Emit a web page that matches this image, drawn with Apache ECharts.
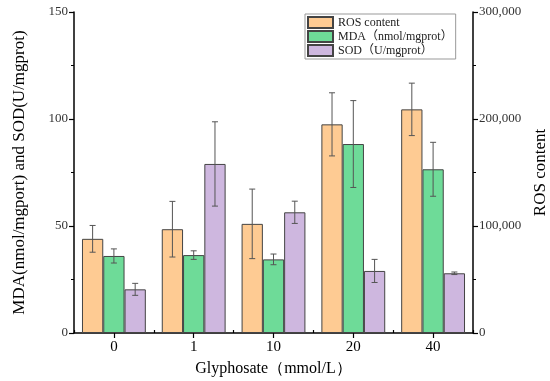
<!DOCTYPE html>
<html>
<head>
<meta charset="utf-8">
<script src="https://cdn.jsdelivr.net/npm/echarts@6/dist/echarts.min.js"></script>
<style>html,body{margin:0;padding:0;background:#fff}#c{width:550px;height:381px}</style>
</head>
<body>
<div id="c"></div>
<script>
const categories = ['0', '1', '10', '20', '40'];
const ros = [88000, 97000, 102000, 195000, 209000];
const rosErr = [12500, 26000, 32500, 29500, 24500];
const mda = [36, 36.4, 34.4, 88.3, 76.5];
const mdaErr = [3.3, 2, 2.5, 20.3, 12.6];
const sod = [20.4, 79, 56.4, 29, 27.9];
const sodErr = [2.8, 19.7, 5.2, 5.4, 0.6];
const leftTicks = [0, 50, 100, 150];
const rightTicks = [0, 100000, 200000, 300000];

const colors = ['#FECB93', '#6EDB98', '#CEB7DF'];
const FONT = 'Liberation Serif';

function errSeries(name, vals, errs, idx, yAxisIndex) {
  return {
    type: 'custom',
    name: name + ' err',
    yAxisIndex: yAxisIndex,
    silent: true,
    z: 5,
    data: vals.map((v, i) => [i, v, errs[i]]),
    renderItem: function (params, api) {
      const i = api.value(0), v = api.value(1), e = api.value(2);
      const catW = api.size([1, 0])[0];
      const bw = catW * 0.8 / 3;
      const off = (idx - 1) * bw;
      const top = api.coord([i, v + e]);
      const bot = api.coord([i, v - e]);
      const x = top[0] + off;
      const cap = 3;
      const st = { stroke: '#555', lineWidth: 1 };
      return {
        type: 'group',
        children: [
          { type: 'line', shape: { x1: x, y1: top[1], x2: x, y2: bot[1] }, style: st },
          { type: 'line', shape: { x1: x - cap, y1: top[1], x2: x + cap, y2: top[1] }, style: st },
          { type: 'line', shape: { x1: x - cap, y1: bot[1], x2: x + cap, y2: bot[1] }, style: st }
        ]
      };
    }
  };
}

const axisLine = { show: true, lineStyle: { color: '#000', width: 1.5 } };

const option = {
  animation: false,
  grid: { left: 74, right: 77, top: 12, bottom: 48, containLabel: false, outerBoundsMode: 'none' },
  legend: {
    orient: 'vertical',
    left: 305,
    top: 14,
    itemWidth: 25,
    itemHeight: 11,
    itemGap: 1,
    padding: [2, 3, 2, 2],
    borderColor: '#999',
    borderWidth: 1,
    icon: 'rect',
    textStyle: { fontFamily: FONT + ', Noto Sans CJK SC', fontSize: 12, color: '#222' },
    data: ['ROS content', 'MDA（nmol/mgprot）', 'SOD（U/mgprot）']
  },
  xAxis: [{
    type: 'category',
    data: categories,
    name: 'Glyphosate（mmol/L）',
    nameLocation: 'middle',
    nameGap: 28,
    nameTextStyle: { fontFamily: FONT, fontSize: 16, color: '#000' },
    axisLine: axisLine,
    axisTick: { show: true, alignWithLabel: true, length: 5, lineStyle: { color: '#000', width: 1.2 } },
    axisLabel: { fontFamily: FONT, fontSize: 15, color: '#000', margin: 7 }
  }, {
    type: 'category',
    data: categories,
    position: 'bottom',
    axisLine: { show: false },
    axisTick: { show: true, inside: true, length: 3, lineStyle: { color: '#000', width: 1.2 } },
    axisLabel: { show: false }
  }],
  yAxis: [{
    type: 'value',
    min: 0, max: 150, interval: 50,
    name: 'MDA(nmol/mgport) and SOD(U/mgprot)',
    nameLocation: 'middle',
    nameGap: 46,
    nameTextStyle: { fontFamily: FONT, fontSize: 17, color: '#000' },
    axisLine: axisLine,
    axisTick: { show: true, length: 5, lineStyle: { color: '#000', width: 1.2 } },
    minorTick: { show: true, splitNumber: 2, length: 3, lineStyle: { color: '#000', width: 1 } },
    splitLine: { show: false },
    axisLabel: { fontFamily: FONT, fontSize: 13, color: '#333', margin: 6 }
  }, {
    type: 'value',
    min: 0, max: 300000, interval: 100000,
    name: 'ROS content',
    nameLocation: 'middle',
    nameGap: 57,
    nameRotate: 90,
    nameTextStyle: { fontFamily: FONT, fontSize: 17, color: '#000' },
    axisLine: axisLine,
    axisTick: { show: true, length: 5, lineStyle: { color: '#000', width: 1.2 } },
    minorTick: { show: true, splitNumber: 2, length: 3, lineStyle: { color: '#000', width: 1 } },
    splitLine: { show: false },
    axisLabel: {
      fontFamily: FONT, fontSize: 13, color: '#333', margin: 6,
      formatter: v => v.toLocaleString('en-US')
    }
  }],
  series: [
    {
      type: 'bar', name: 'ROS content', yAxisIndex: 1, data: ros,
      barGap: '0%', barCategoryGap: '20%',
      itemStyle: { color: colors[0], borderColor: '#444', borderWidth: 1 }
    },
    {
      type: 'bar', name: 'MDA（nmol/mgprot）', yAxisIndex: 0, data: mda,
      barGap: '0%', barCategoryGap: '20%',
      itemStyle: { color: colors[1], borderColor: '#444', borderWidth: 1 }
    },
    {
      type: 'bar', name: 'SOD（U/mgprot）', yAxisIndex: 0, data: sod,
      barGap: '0%', barCategoryGap: '20%',
      itemStyle: { color: colors[2], borderColor: '#444', borderWidth: 1 }
    },
    errSeries('ROS', ros, rosErr, 0, 1),
    errSeries('MDA', mda, mdaErr, 1, 0),
    errSeries('SOD', sod, sodErr, 2, 0)
  ]
};

const chart = echarts.init(document.getElementById('c'));
chart.setOption(option);
</script>
</body>
</html>
